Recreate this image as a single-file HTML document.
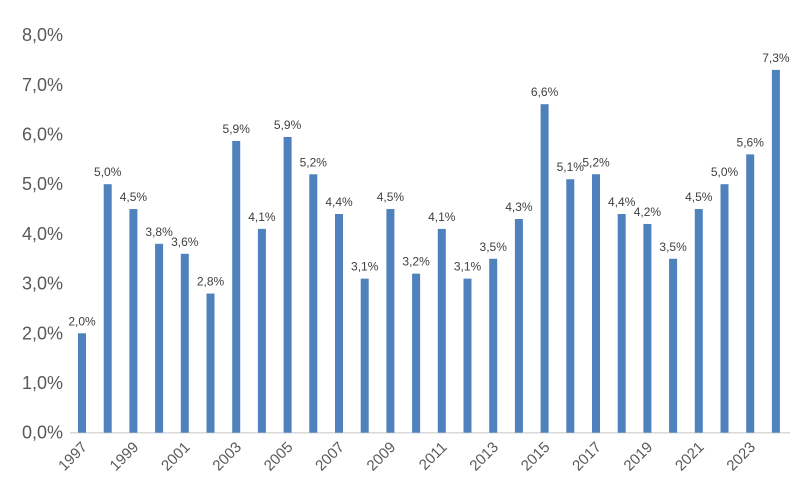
<!DOCTYPE html>
<html><head><meta charset="utf-8"><style>
body{margin:0;background:#fff}
svg{display:block;font-family:"Liberation Sans",sans-serif}
</style></head><body>
<svg width="800" height="500" xmlns="http://www.w3.org/2000/svg">
<line x1="70" y1="432.7" x2="790" y2="432.7" stroke="#d9d9d9" stroke-width="1.5"/>
<g fill="#595959" font-size="18" text-anchor="end">
<text x="63" y="438.7">0,0%</text><text x="63" y="389">1,0%</text><text x="63" y="339.3">2,0%</text>
<text x="63" y="289.6">3,0%</text><text x="63" y="239.9">4,0%</text><text x="63" y="190.2">5,0%</text>
<text x="63" y="140.5">6,0%</text><text x="63" y="90.8">7,0%</text><text x="63" y="41.1">8,0%</text>
</g>
<g fill="#4f81bd">
<rect x="78" y="333.3" width="8" height="99.4"/>
<rect x="103.7" y="184.2" width="8" height="248.5"/>
<rect x="129.4" y="209.05" width="8" height="223.65"/>
<rect x="155.1" y="243.84" width="8" height="188.86"/>
<rect x="180.8" y="253.78" width="8" height="178.92"/>
<rect x="206.5" y="293.54" width="8" height="139.16"/>
<rect x="232.2" y="140.96" width="8" height="291.74"/>
<rect x="257.9" y="228.93" width="8" height="203.77"/>
<rect x="283.6" y="136.98" width="8" height="295.72"/>
<rect x="309.3" y="174.26" width="8" height="258.44"/>
<rect x="335" y="214.02" width="8" height="218.68"/>
<rect x="360.7" y="278.63" width="8" height="154.07"/>
<rect x="386.4" y="209.05" width="8" height="223.65"/>
<rect x="412.1" y="273.66" width="8" height="159.04"/>
<rect x="437.8" y="228.93" width="8" height="203.77"/>
<rect x="463.5" y="278.63" width="8" height="154.07"/>
<rect x="489.2" y="258.75" width="8" height="173.95"/>
<rect x="514.9" y="218.99" width="8" height="213.71"/>
<rect x="540.6" y="104.18" width="8" height="328.52"/>
<rect x="566.3" y="179.23" width="8" height="253.47"/>
<rect x="592" y="174.26" width="8" height="258.44"/>
<rect x="617.7" y="214.02" width="8" height="218.68"/>
<rect x="643.4" y="223.96" width="8" height="208.74"/>
<rect x="669.1" y="258.75" width="8" height="173.95"/>
<rect x="694.8" y="209.05" width="8" height="223.65"/>
<rect x="720.5" y="184.2" width="8" height="248.5"/>
<rect x="746.2" y="154.38" width="8" height="278.32"/>
<rect x="771.9" y="69.89" width="8" height="362.81"/>
</g>
<g fill="#404040" font-size="12" text-anchor="middle">
<text x="82" y="325.3">2,0%</text>
<text x="107.7" y="176.2">5,0%</text>
<text x="133.4" y="201.05">4,5%</text>
<text x="159.1" y="235.84">3,8%</text>
<text x="184.8" y="245.78">3,6%</text>
<text x="210.5" y="285.54">2,8%</text>
<text x="236.2" y="132.96">5,9%</text>
<text x="261.9" y="220.93">4,1%</text>
<text x="287.6" y="128.98">5,9%</text>
<text x="313.3" y="166.26">5,2%</text>
<text x="339" y="206.02">4,4%</text>
<text x="364.7" y="270.63">3,1%</text>
<text x="390.4" y="201.05">4,5%</text>
<text x="416.1" y="265.66">3,2%</text>
<text x="441.8" y="220.93">4,1%</text>
<text x="467.5" y="270.63">3,1%</text>
<text x="493.2" y="250.75">3,5%</text>
<text x="518.9" y="210.99">4,3%</text>
<text x="544.6" y="96.18">6,6%</text>
<text x="570.3" y="171.23">5,1%</text>
<text x="596" y="166.26">5,2%</text>
<text x="621.7" y="206.02">4,4%</text>
<text x="647.4" y="215.96">4,2%</text>
<text x="673.1" y="250.75">3,5%</text>
<text x="698.8" y="201.05">4,5%</text>
<text x="724.5" y="176.2">5,0%</text>
<text x="750.2" y="146.38">5,6%</text>
<text x="775.9" y="61.89">7,3%</text>
</g>
<g fill="#595959" font-size="15" text-anchor="end">
<text transform="translate(88,448) rotate(-45)">1997</text>
<text transform="translate(139.4,448) rotate(-45)">1999</text>
<text transform="translate(190.8,448) rotate(-45)">2001</text>
<text transform="translate(242.2,448) rotate(-45)">2003</text>
<text transform="translate(293.6,448) rotate(-45)">2005</text>
<text transform="translate(345,448) rotate(-45)">2007</text>
<text transform="translate(396.4,448) rotate(-45)">2009</text>
<text transform="translate(447.8,448) rotate(-45)">2011</text>
<text transform="translate(499.2,448) rotate(-45)">2013</text>
<text transform="translate(550.6,448) rotate(-45)">2015</text>
<text transform="translate(602,448) rotate(-45)">2017</text>
<text transform="translate(653.4,448) rotate(-45)">2019</text>
<text transform="translate(704.8,448) rotate(-45)">2021</text>
<text transform="translate(756.2,448) rotate(-45)">2023</text>
</g>
</svg>
</body></html>
